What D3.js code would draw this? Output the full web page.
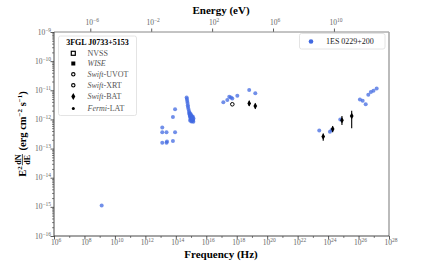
<!DOCTYPE html>
<html lang="en">
<head>
<meta charset="UTF-8">
<title>SED</title>
<script src="https://d3js.org/d3.v7.min.js"></script>
<style>
  body { margin: 0; background: #fff; }
  text { font-family: "Liberation Serif", "DejaVu Serif", serif; }
</style>
</head>
<body>
<div id="my_dataviz"></div>
<script>
// log10 of frequency (Hz) and log10 of flux (erg cm^-2 s^-1)
var blueLogNu = [9.13,
  13.11, 13.11, 13.39, 13.95, 13.11, 13.39, 13.42, 13.81, 13.81, 13.95,
  14.71, 14.73, 14.75, 14.77, 14.79, 14.80, 14.83, 14.86, 14.90, 14.93, 14.96, 14.99,
  15.03, 15.06, 15.09, 15.13, 15.15, 14.96, 14.99, 15.03, 14.92, 15.11, 15.16, 15.06,
  14.88, 14.91, 14.95, 15.00, 15.08, 15.12, 14.94, 15.02, 15.10, 14.98,
  17.12, 17.38, 17.51, 17.62, 17.71, 18.04, 18.82, 19.22,
  23.42, 24.12, 24.23, 24.80, 26.09, 26.27, 26.47, 26.64, 26.81, 26.98, 27.19];
var blueLogFlux = [-14.95,
  -12.28, -12.44, -12.44, -12.44, -12.80, -12.80, -12.76, -12.74, -11.92, -11.65,
  -11.25, -11.30, -11.37, -11.44, -11.51, -11.57, -11.64, -11.71, -11.76, -11.81, -11.87, -11.90,
  -11.93, -11.97, -12.00, -12.04, -12.08, -11.92, -11.99, -12.02, -11.88, -11.90, -11.97, -12.05,
  -11.80, -11.84, -11.95, -11.86, -11.92, -12.00, -12.04, -12.07, -11.95, -11.82,
  -11.41, -11.33, -11.22, -11.25, -11.28, -11.19, -10.99, -11.10,
  -12.38, -12.42, -12.36, -12.00, -11.32, -11.36, -11.48, -11.15, -11.06, -11.02, -10.94];

var xrtLogNu = [17.71];
var xrtLogFlux = [-11.48];

var batLogNu = [18.82, 19.22];
var batLogFlux = [-11.45, -11.54];
var batLo = [-11.54, -11.63];
var batHi = [-11.36, -11.45];

var latLogNu = [23.68, 24.30, 24.91, 25.55];
var latLogFlux = [-12.59, -12.33, -12.03, -11.88];
var latLo = [-12.73, -12.44, -12.19, -12.30];
var latHi = [-12.48, -12.23, -11.88, -11.70];

var xTickExp = [6, 8, 10, 12, 14, 16, 18, 20, 22, 24, 26, 28];
var yTickExp = [-16, -15, -14, -13, -12, -11, -10, -9];
var eTickExp = [-6, -2, 2, 6, 10];
var legendNames = ["NVSS", "WISE", "Swift-UVOT", "Swift-XRT", "Swift-BAT", "Fermi-LAT"];

var W = 432, H = 266;
var pL = 54, pR = 389, pT = 32, pB = 236;
var hPlanck = 4.1357e-15;

var svg = d3.select("#my_dataviz").append("svg")
  .attr("width", W).attr("height", H);

var x = d3.scaleLog().domain([1e6, 1e28]).range([pL, pR]);
var y = d3.scaleLog().domain([1e-16, 1e-9]).range([pB, pT]);
var p = function(e) { return Math.pow(10, e); };

// minor ticks
var xMinor = [];
for (var e = 6; e < 28; e++) { if (e % 2 === 1) xMinor.push(p(e)); }
var yMinor = [];
for (var e2 = -16; e2 < -9; e2++) {
  for (var k = 2; k < 10; k++) yMinor.push(k * p(e2));
}

var tickCol = "#666";
function styleTicks(w) {
  return function(g) {
    g.select(".domain").remove();
    g.selectAll("line").attr("stroke", "#333").attr("stroke-width", w);
  };
}

svg.append("g").attr("transform", "translate(0," + pB + ")")
  .call(d3.axisBottom(x).tickValues(xTickExp.map(p)).tickFormat("").tickSize(3.5))
  .call(styleTicks(0.8));
svg.append("g").attr("transform", "translate(0," + pB + ")")
  .call(d3.axisBottom(x).tickValues(xMinor).tickFormat("").tickSize(2))
  .call(styleTicks(0.6));
svg.append("g").attr("transform", "translate(" + pL + ",0)")
  .call(d3.axisLeft(y).tickValues(yTickExp.map(p)).tickFormat("").tickSize(3.5))
  .call(styleTicks(0.8));
svg.append("g").attr("transform", "translate(" + pL + ",0)")
  .call(d3.axisLeft(y).tickValues(yMinor).tickFormat("").tickSize(2))
  .call(styleTicks(0.6));

// top energy axis
var eNu = eTickExp.map(function(e) { return p(e) / hPlanck; });
svg.append("g").attr("transform", "translate(0," + pT + ")")
  .call(d3.axisTop(x).tickValues(eNu).tickFormat("").tickSize(3.5))
  .call(styleTicks(0.8));

// spines
svg.append("line").attr("x1", pL).attr("x2", pR).attr("y1", pT).attr("y2", pT)
  .attr("stroke", "#888").attr("stroke-width", 1);
svg.append("line").attr("x1", pR).attr("x2", pR).attr("y1", pT).attr("y2", pB)
  .attr("stroke", "#aaa").attr("stroke-width", 1.6);
svg.append("line").attr("x1", pL).attr("x2", pR).attr("y1", pB).attr("y2", pB)
  .attr("stroke", "#333").attr("stroke-width", 0.9);
svg.append("line").attr("x1", pL).attr("x2", pL).attr("y1", pT).attr("y2", pB)
  .attr("stroke", "#333").attr("stroke-width", 0.9);

function powLabel(sel, exp, px, py, anchor) {
  var t = sel.append("text").attr("x", px).attr("y", py)
    .attr("text-anchor", anchor).attr("fill", tickCol).style("font-size", "7.5px");
  t.append("tspan").text("10");
  t.append("tspan").attr("dy", -3).style("font-size", "5.5px").text(String(exp).replace("-", "\u2212"));
  return t;
}

xTickExp.forEach(function(e) { powLabel(svg, e, x(p(e)) + 2, 245, "middle"); });
yTickExp.forEach(function(e) { powLabel(svg, e, 51, y(p(e)) + 2.5, "end"); });
eTickExp.forEach(function(e, i) { powLabel(svg, e, x(eNu[i]) + 2, 25, "middle"); });

// axis titles
svg.append("text").attr("x", 221).attr("y", 14).attr("text-anchor", "middle")
  .style("font-size", "11px").style("font-weight", "bold").text("Energy (eV)");
svg.append("text").attr("x", 221).attr("y", 258).attr("text-anchor", "middle")
  .style("font-size", "11px").style("font-weight", "bold").text("Frequency (Hz)");

// y title: E^2 dN/dE (erg cm^-2 s^-1), built piece by piece in a rotated group
var yg = svg.append("g").attr("transform", "translate(26,0) rotate(-90)");
var cur = 0;
var t1 = yg.append("text").attr("x", 0).attr("y", 0)
  .style("font-size", "10.5px").style("font-weight", "bold");
t1.append("tspan").text("E");
t1.append("tspan").attr("dy", -4).style("font-size", "7px").text("2");
cur = t1.node().getComputedTextLength() + 1.5;
var num = yg.append("text").attr("x", cur).attr("y", -5)
  .style("font-size", "8px").style("font-weight", "bold").text("dN");
var den = yg.append("text").attr("x", cur).attr("y", 4)
  .style("font-size", "8px").style("font-weight", "bold").text("dE");
var fw = Math.max(num.node().getComputedTextLength(), den.node().getComputedTextLength());
yg.append("line").attr("x1", cur - 0.5).attr("x2", cur + fw + 0.5).attr("y1", -3.6).attr("y2", -3.6)
  .attr("stroke", "#000").attr("stroke-width", 0.7);
cur += fw + 4;
var t3 = yg.append("text").attr("x", cur).attr("y", 0)
  .style("font-size", "10.5px").style("font-weight", "bold");
t3.append("tspan").text("(erg cm");
t3.append("tspan").attr("dy", -4).style("font-size", "7px").text("\u22122");
t3.append("tspan").attr("dy", 4).text(" s");
t3.append("tspan").attr("dy", -4).style("font-size", "7px").text("\u22121");
t3.append("tspan").attr("dy", 4).text(")");
cur += t3.node().getComputedTextLength();
yg.selectAll("text, line").attr("transform", "translate(" + (-134 - cur / 2) + ",0)");

// blue data
var blue = blueLogNu.map(function(v, i) { return { nu: p(v), f: p(blueLogFlux[i]) }; });
svg.append("g").selectAll("circle").data(blue).enter().append("circle")
  .attr("cx", function(d) { return x(d.nu); })
  .attr("cy", function(d) { return y(d.f); })
  .attr("r", 2)
  .attr("fill", "#4169e1").attr("fill-opacity", 0.75);

// black source data
svg.append("g").selectAll("circle").data(xrtLogNu).enter().append("circle")
  .attr("cx", function(d) { return x(p(d)); })
  .attr("cy", function(d, i) { return y(p(xrtLogFlux[i])); })
  .attr("r", 1.8).attr("fill", "none").attr("stroke", "#000").attr("stroke-width", 1);

function errPoints(nu, fl, lo, hi) {
  var g = svg.append("g");
  nu.forEach(function(v, i) {
    var cx = x(p(v));
    g.append("line").attr("x1", cx).attr("x2", cx)
      .attr("y1", y(p(lo[i]))).attr("y2", y(p(hi[i])))
      .attr("stroke", "#000").attr("stroke-width", 1.1);
    g.append("path").attr("d", d3.symbol().type(d3.symbolDiamond).size(12)())
      .attr("transform", "translate(" + cx + "," + y(p(fl[i])) + ")")
      .attr("fill", "#000");
  });
}
errPoints(batLogNu, batLogFlux, batLo, batHi);
errPoints(latLogNu, latLogFlux, latLo, latHi);

// left legend
var lg = svg.append("g");
lg.append("rect").attr("x", 58.5).attr("y", 36).attr("width", 78).attr("height", 79.5)
  .attr("rx", 2).attr("fill", "#fff").attr("fill-opacity", 0.85)
  .attr("stroke", "#ddd").attr("stroke-width", 0.8);
lg.append("text").attr("x", 97.5).attr("y", 45).attr("text-anchor", "middle")
  .style("font-size", "8px").style("font-weight", "bold").text("3FGL J0733+5153");
var ly = [53.3, 63.5, 74.3, 85.3, 96.5, 108.5];
legendNames.forEach(function(n, i) {
  var yy = ly[i], mx = 73.3;
  if (i === 0) {
    lg.append("rect").attr("x", mx - 2).attr("y", yy - 2).attr("width", 4).attr("height", 4)
      .attr("fill", "none").attr("stroke", "#000").attr("stroke-width", 1.2);
  } else if (i === 1) {
    lg.append("rect").attr("x", mx - 2).attr("y", yy - 2).attr("width", 4).attr("height", 4).attr("fill", "#000");
  } else if (i === 2 || i === 3) {
    lg.append("circle").attr("cx", mx).attr("cy", yy).attr("r", 1.7)
      .attr("fill", "none").attr("stroke", "#000").attr("stroke-width", 1.1);
  } else if (i === 4) {
    lg.append("path").attr("d", d3.symbol().type(d3.symbolDiamond).size(14)())
      .attr("transform", "translate(" + mx + "," + yy + ")").attr("fill", "#000");
  } else {
    lg.append("circle").attr("cx", mx).attr("cy", yy).attr("r", 1.5).attr("fill", "#000");
  }
  var t = lg.append("text").attr("x", 87.5).attr("y", yy + 2.5)
    .attr("fill", "#555").style("font-size", "8px");
  if (n === "WISE") {
    t.append("tspan").style("font-style", "italic").text("WISE");
  } else if (n.indexOf("-") > 0) {
    var parts = n.split("-");
    t.append("tspan").style("font-style", "italic").text(parts[0]);
    t.append("tspan").text("-" + parts[1]);
  } else {
    t.text(n);
  }
});

// right legend
var rg = svg.append("g");
rg.append("rect").attr("x", 299.5).attr("y", 33.5).attr("width", 85.5).attr("height", 15.5)
  .attr("rx", 2).attr("fill", "#fff").attr("stroke", "#ddd").attr("stroke-width", 0.8);
rg.append("circle").attr("cx", 311).attr("cy", 41.5).attr("r", 2.3).attr("fill", "#4169e1");
rg.append("text").attr("x", 326).attr("y", 44.2).style("font-size", "8px")
  .attr("fill", "#222").text("1ES 0229+200");
</script>
</body>
</html>
